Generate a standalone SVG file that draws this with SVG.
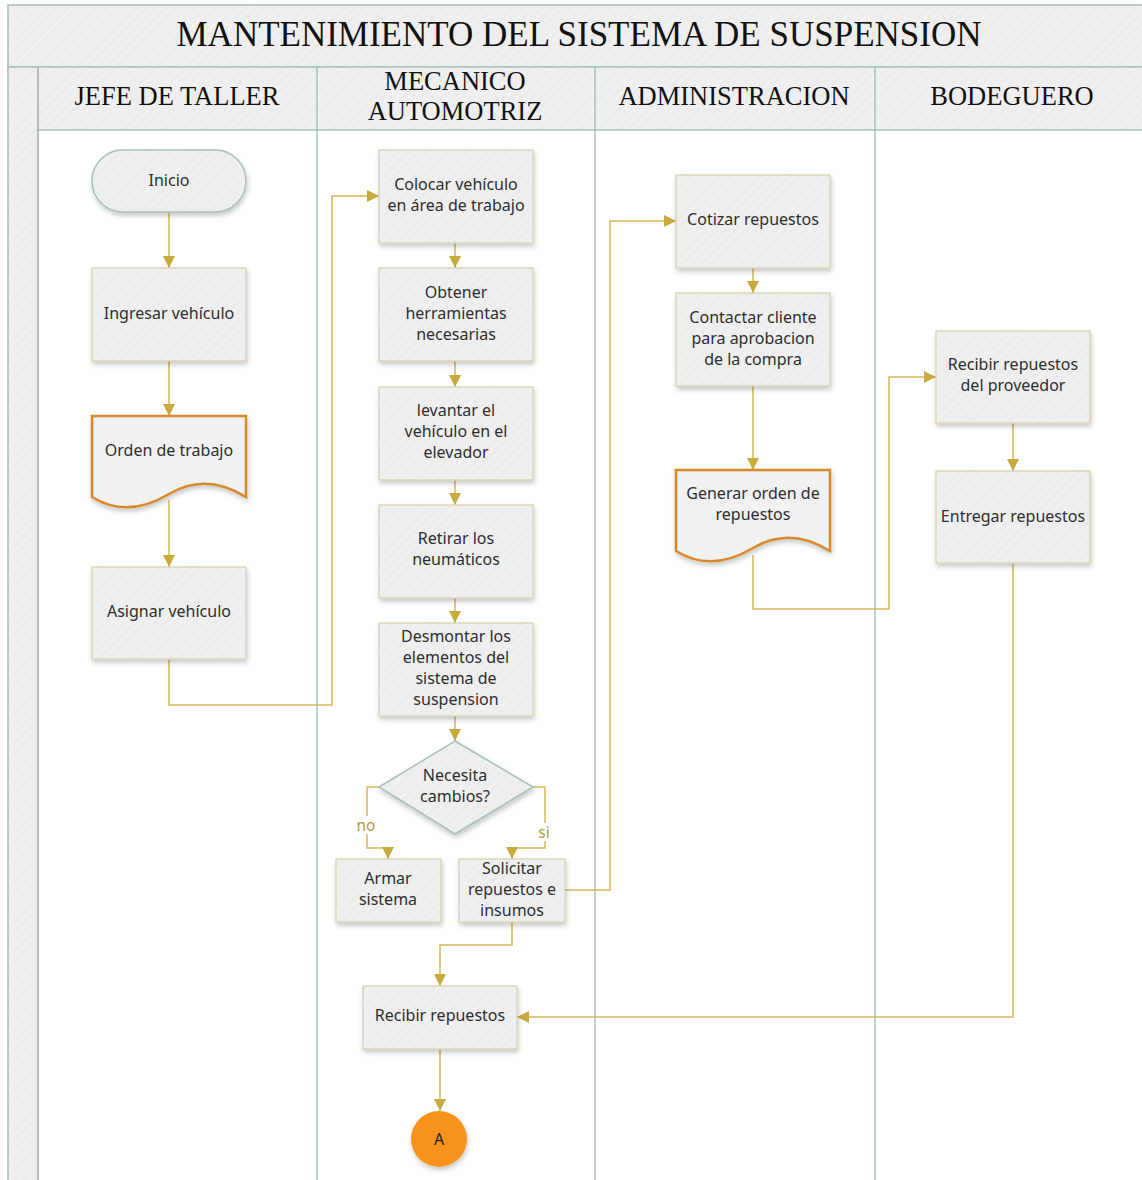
<svg xmlns="http://www.w3.org/2000/svg" width="1142" height="1180" viewBox="0 0 1142 1180">
  <defs>
    <pattern id="hatch" patternUnits="userSpaceOnUse" width="7" height="7" patternTransform="rotate(45)">
      <rect width="7" height="7" fill="#ededed"/>
      <line x1="0" y1="0" x2="0" y2="7" stroke="#f4f4f4" stroke-width="2"/>
    </pattern>
    <filter id="shadow" x="-20%" y="-20%" width="140%" height="150%">
      <feDropShadow dx="1" dy="3" stdDeviation="2.5" flood-color="#000" flood-opacity="0.22"/>
    </filter>
    <marker id="arrow" viewBox="0 0 10 10" refX="10" refY="5" markerWidth="12" markerHeight="12" markerUnits="userSpaceOnUse" orient="auto">
      <path d="M0,0 L10,5 L0,10 Z" fill="#c9aa3c"/>
    </marker>
    <style>
      .band { fill: url(#hatch); stroke: #a8c0b8; stroke-width: 1.5; }
      .lane { stroke: #a8c0b8; stroke-width: 1.5; fill: none; }
      .box { fill: url(#hatch); stroke: #d8cfa8; stroke-width: 1.2; filter: url(#shadow); }
      .term { fill: url(#hatch); stroke: #a8c0b8; stroke-width: 1.5; filter: url(#shadow); }
      .doc { fill: #f1f1f1; stroke: #d7892c; stroke-width: 2.5; filter: url(#shadow); }
      .title { font-family: "Liberation Serif", "Times New Roman", serif; font-size: 35px; fill: #111; text-anchor: middle; }
      .head { font-family: "Liberation Serif", "Times New Roman", serif; font-size: 26.5px; fill: #111; text-anchor: middle; }
      .t { font-family: "Noto Sans", "Open Sans", sans-serif; font-size: 16px; fill: #2e2e2e; text-anchor: middle; }
      .lbl { font-family: "Noto Sans", "Open Sans", sans-serif; font-size: 15.5px; fill: #b39a3c; text-anchor: middle; }
      .conn { fill: none; stroke: #d3b95c; stroke-width: 1.5; }
    </style>
  </defs>

  <!-- swimlane frame -->
  <g id="pool">
    <rect x="0" y="0" width="1142" height="1180" fill="#ffffff"/>
    <rect class="band" x="8" y="5" width="1140" height="62"/>
    <rect class="band" x="8" y="67" width="30" height="1120"/>
    <rect class="band" x="38" y="67" width="1110" height="63"/>
    <line class="lane" x1="38" y1="67" x2="38" y2="1180"/>
    <line class="lane" x1="317" y1="67" x2="317" y2="1180"/>
    <line class="lane" x1="595" y1="67" x2="595" y2="1180"/>
    <line class="lane" x1="875" y1="67" x2="875" y2="1180"/>
    <text class="title" x="579" y="46">MANTENIMIENTO DEL SISTEMA DE SUSPENSION</text>
    <text class="head" x="177" y="105">JEFE DE TALLER</text>
    <text class="head" x="455" y="90">MECANICO</text>
    <text class="head" x="455" y="120">AUTOMOTRIZ</text>
    <text class="head" x="734" y="105">ADMINISTRACION</text>
    <text class="head" x="1012" y="105">BODEGUERO</text>
  </g>

  <!-- connectors -->
  <g id="connectors">
    <path class="conn" d="M169,212 V268" marker-end="url(#arrow)"/>
    <path class="conn" d="M169,361 V416" marker-end="url(#arrow)"/>
    <path class="conn" d="M169,500 V567" marker-end="url(#arrow)"/>
    <path class="conn" d="M169,659 V705 H332 V196 H379" marker-end="url(#arrow)"/>
    <path class="conn" d="M455,243 V268" marker-end="url(#arrow)"/>
    <path class="conn" d="M455,361 V387" marker-end="url(#arrow)"/>
    <path class="conn" d="M455,480 V505" marker-end="url(#arrow)"/>
    <path class="conn" d="M455,598 V623" marker-end="url(#arrow)"/>
    <path class="conn" d="M455,716 V741" marker-end="url(#arrow)"/>
    <path class="conn" d="M379,787 H367 V848 H388 V859" marker-end="url(#arrow)"/>
    <path class="conn" d="M533,787 H545 V848 H512 V859" marker-end="url(#arrow)"/>
    <path class="conn" d="M565,890 H610 V221 H676" marker-end="url(#arrow)"/>
    <path class="conn" d="M512,922 V945 H440 V986" marker-end="url(#arrow)"/>
    <path class="conn" d="M753,268 V293" marker-end="url(#arrow)"/>
    <path class="conn" d="M753,386 V470" marker-end="url(#arrow)"/>
    <path class="conn" d="M753,555 V609 H889 V377 H936" marker-end="url(#arrow)"/>
    <path class="conn" d="M1013,423 V471" marker-end="url(#arrow)"/>
    <path class="conn" d="M1013,563 V1017 H517" marker-end="url(#arrow)"/>
    <path class="conn" d="M440,1049 V1111" marker-end="url(#arrow)"/>
    <rect x="355" y="816" width="22" height="18" fill="#ffffff"/>
    <text class="lbl" x="366" y="831">no</text>
    <rect x="536" y="823" width="18" height="18" fill="#ffffff"/>
    <text class="lbl" x="544" y="838">si</text>
  </g>

  <!-- jefe de taller -->
  <g id="inicio">
    <rect class="term" x="92" y="150" width="154" height="62" rx="31"/>
    <text class="t" x="169" y="186">Inicio</text>
  </g>
  <g id="ingresar">
    <rect class="box" x="92" y="268" width="154" height="93"/>
    <text class="t" x="169" y="319">Ingresar vehículo</text>
  </g>
  <g id="orden">
    <path class="doc" d="M92,416 H246 V497 C222,482 196,478 169,494 C144,509 118,513 92,497 Z"/>
    <text class="t" x="169" y="456">Orden de trabajo</text>
  </g>
  <g id="asignar">
    <rect class="box" x="92" y="567" width="154" height="92"/>
    <text class="t" x="169" y="617">Asignar vehículo</text>
  </g>

  <!-- mecanico automotriz -->
  <g id="colocar">
    <rect class="box" x="379" y="150" width="154" height="93"/>
    <text class="t" x="456" y="190">Colocar vehículo</text>
    <text class="t" x="456" y="211">en área de trabajo</text>
  </g>
  <g id="obtener">
    <rect class="box" x="379" y="268" width="154" height="93"/>
    <text class="t" x="456" y="298">Obtener</text>
    <text class="t" x="456" y="319">herramientas</text>
    <text class="t" x="456" y="340">necesarias</text>
  </g>
  <g id="levantar">
    <rect class="box" x="379" y="387" width="154" height="93"/>
    <text class="t" x="456" y="416">levantar el</text>
    <text class="t" x="456" y="437">vehículo en el</text>
    <text class="t" x="456" y="458">elevador</text>
  </g>
  <g id="retirar">
    <rect class="box" x="379" y="505" width="154" height="93"/>
    <text class="t" x="456" y="544">Retirar los</text>
    <text class="t" x="456" y="565">neumáticos</text>
  </g>
  <g id="desmontar">
    <rect class="box" x="379" y="623" width="154" height="93"/>
    <text class="t" x="456" y="642">Desmontar los</text>
    <text class="t" x="456" y="663">elementos del</text>
    <text class="t" x="456" y="684">sistema de</text>
    <text class="t" x="456" y="705">suspension</text>
  </g>
  <g id="decision">
    <path class="term" d="M455,741 L533,787 L455,834 L379,787 Z"/>
    <text class="t" x="455" y="781">Necesita</text>
    <text class="t" x="455" y="802">cambios?</text>
  </g>
  <g id="armar">
    <rect class="box" x="336" y="859" width="105" height="63"/>
    <text class="t" x="388" y="884">Armar</text>
    <text class="t" x="388" y="905">sistema</text>
  </g>
  <g id="solicitar">
    <rect class="box" x="459" y="859" width="106" height="63"/>
    <text class="t" x="512" y="874">Solicitar</text>
    <text class="t" x="512" y="895">repuestos e</text>
    <text class="t" x="512" y="916">insumos</text>
  </g>
  <g id="recibir">
    <rect class="box" x="363" y="986" width="154" height="63"/>
    <text class="t" x="440" y="1021">Recibir repuestos</text>
  </g>
  <g id="conector-a">
    <circle cx="439" cy="1139" r="28" fill="#f7931e" filter="url(#shadow)"/>
    <text class="t" x="439" y="1145" style="fill:#222">A</text>
  </g>

  <!-- administracion -->
  <g id="cotizar">
    <rect class="box" x="676" y="175" width="154" height="93"/>
    <text class="t" x="753" y="225">Cotizar repuestos</text>
  </g>
  <g id="contactar">
    <rect class="box" x="676" y="293" width="154" height="93"/>
    <text class="t" x="753" y="323">Contactar cliente</text>
    <text class="t" x="753" y="344">para aprobacion</text>
    <text class="t" x="753" y="365">de la compra</text>
  </g>
  <g id="generar">
    <path class="doc" d="M676,470 H830 V551 C806,536 780,532 753,548 C728,563 702,567 676,551 Z"/>
    <text class="t" x="753" y="499">Generar orden de</text>
    <text class="t" x="753" y="520">repuestos</text>
  </g>

  <!-- bodeguero -->
  <g id="recibir-proveedor">
    <rect class="box" x="936" y="331" width="154" height="92"/>
    <text class="t" x="1013" y="370">Recibir repuestos</text>
    <text class="t" x="1013" y="391">del proveedor</text>
  </g>
  <g id="entregar">
    <rect class="box" x="936" y="471" width="154" height="92"/>
    <text class="t" x="1013" y="522">Entregar repuestos</text>
  </g>
</svg>
